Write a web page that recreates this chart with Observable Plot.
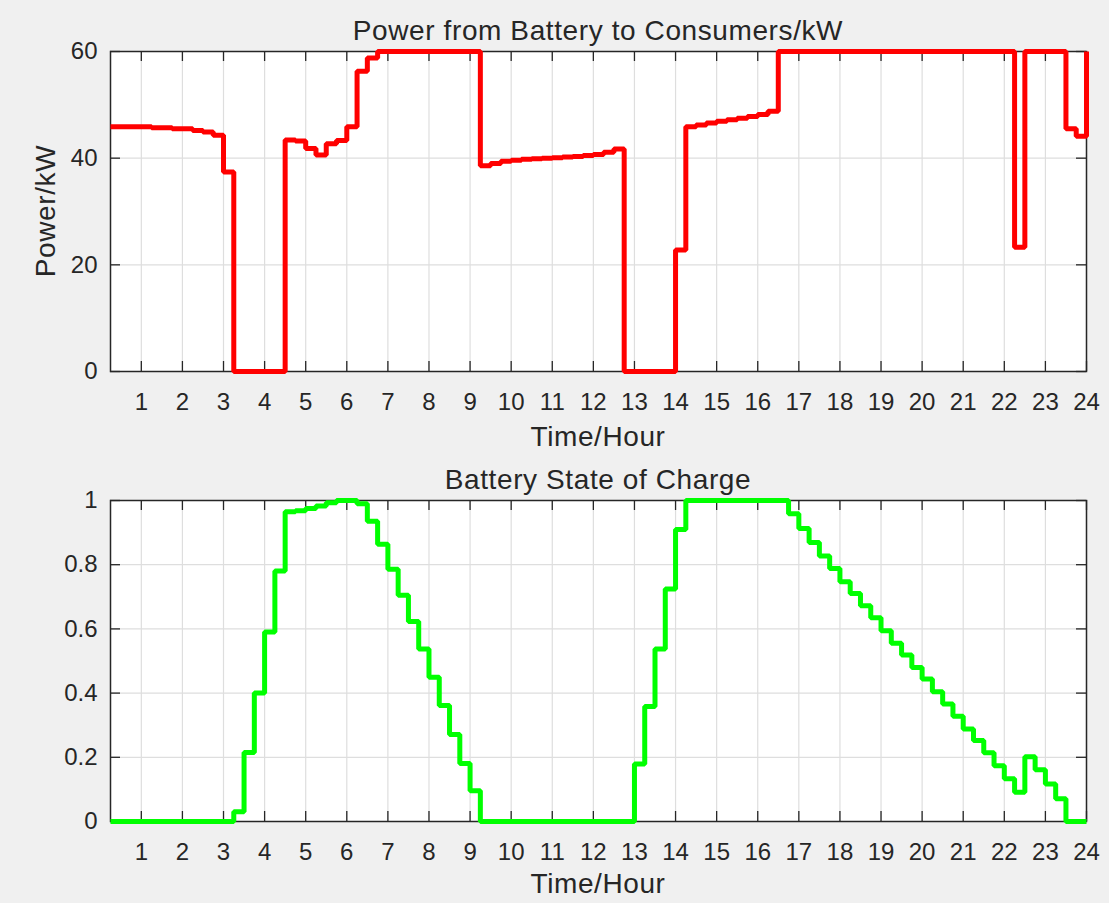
<!DOCTYPE html>
<html>
<head>
<meta charset="utf-8">
<script src="https://cdn.jsdelivr.net/npm/d3@7"></script>
<script src="https://cdn.jsdelivr.net/npm/@observablehq/plot@0.6"></script>
<style>
  html, body { margin: 0; padding: 0; background: #f0f0f0; }
  #fig { position: relative; width: 1109px; height: 903px; background: #f0f0f0; overflow: hidden;
         font-family: "Liberation Sans", Arial, Helvetica, sans-serif; color: #262626; }
  #fig svg { position: absolute; left: 0; }
  .lbl { position: absolute; transform: translate(-50%, -50%); white-space: nowrap; line-height: 1;
         font-size: 28px; letter-spacing: 0.6px; color: #262626; }
</style>
</head>
<body>
<div id="fig"></div>
<script>
// Sample times (hours), 15-minute steps
const hours = [0.25,0.5,0.75,1,1.25,1.5,1.75,2,2.25,2.5,2.75,3,3.25,3.5,3.75,4,4.25,4.5,4.75,5,5.25,5.5,5.75,6,
  6.25,6.5,6.75,7,7.25,7.5,7.75,8,8.25,8.5,8.75,9,9.25,9.5,9.75,10,10.25,10.5,10.75,11,11.25,11.5,11.75,12,
  12.25,12.5,12.75,13,13.25,13.5,13.75,14,14.25,14.5,14.75,15,15.25,15.5,15.75,16,16.25,16.5,16.75,17,17.25,17.5,
  17.75,18,18.25,18.5,18.75,19,19.25,19.5,19.75,20,20.25,20.5,20.75,21,21.25,21.5,21.75,22,22.25,22.5,22.75,23,
  23.25,23.5,23.75,24];

// Power from battery to consumers (kW)
const powerKW = [45.9,45.9,45.9,45.9,45.7,45.7,45.5,45.5,45.2,44.9,44.3,37.4,
  0,0,0,0,0,
  43.4,43.2,41.8,40.6,42.7,43.3,45.9,56.3,58.8,
  60,60,60,60,60,60,60,60,60,60,
  38.6,39.0,39.4,39.6,39.8,39.9,40.0,40.1,40.2,40.3,40.5,40.7,41.1,41.7,
  0,0,0,0,0,
  22.8,
  45.9,46.2,46.6,46.9,47.2,47.5,47.8,48.2,48.8,
  60,60,60,60,60,60,60,60,60,60,60,60,60,60,60,60,60,60,60,60,60,60,60,
  23.3,
  60,60,60,60,
  45.5,44.1,60];

// Battery state of charge (0..1)
const soc = [0,0,0,0,0,0,0,0,0,0,0,0,
  0.03,0.215,0.40,0.59,0.78,0.965,
  0.968,0.975,0.983,0.993,1.0,1.0,0.99,0.935,
  0.864,0.786,0.705,0.623,0.537,0.449,0.361,0.271,0.181,0.096,
  0,0,0,0,0,0,0,0,0,0,0,0,0,0,0,
  0.179,0.358,0.537,0.724,0.91,
  1,1,1,1,1,1,1,1,1,1,
  0.959,0.913,0.869,0.827,0.788,0.747,0.710,0.672,0.635,0.594,0.555,0.519,0.480,0.444,
  0.404,0.366,0.328,0.288,0.252,0.214,0.174,0.133,0.091,0.202,0.161,0.117,0.071,
  0,0,0];

const hourTicks = [1,2,3,4,5,6,7,8,9,10,11,12,13,14,15,16,17,18,19,20,21,22,23,24];
const powerTicks = [0,20,40,60];
const socTicks = [0,0.2,0.4,0.6,0.8,1];

const titles = ["Power from Battery to Consumers/kW", "Battery State of Charge"];
const xLabel = "Time/Hour";
const yLabelPower = "Power/kW";

const powerData = hours.map((h, i) => ({h, v: powerKW[i]}));
const socData = hours.map((h, i) => ({h, v: soc[i]}));

const axisColor = "#262626";
const gridColor = "#dedede";

function panel({data, yDomain, yTicks, color, frameH, top}) {
  const mt = 5, mb = 40;
  const p = Plot.plot({
    width: 1109,
    height: mt + frameH + mb,
    marginLeft: 110,
    marginRight: 23,
    marginTop: mt,
    marginBottom: mb,
    style: {background: "transparent", fontSize: "24px", fontFamily: "'Liberation Sans', Arial, sans-serif", color: axisColor, overflow: "visible"},
    x: {domain: [0.25, 24]},
    y: {domain: yDomain},
    marks: [
      Plot.frame({fill: "white", stroke: null}),
      Plot.gridX(hourTicks, {stroke: gridColor, strokeOpacity: 1, strokeWidth: 1.2}),
      Plot.gridY(yTicks, {stroke: gridColor, strokeOpacity: 1, strokeWidth: 1.2}),
      Plot.tickX(hourTicks, {x: d => d, insetTop: frameH - 10, stroke: axisColor, strokeWidth: 1.3}),
      Plot.tickX(hourTicks, {x: d => d, insetBottom: frameH - 10, stroke: axisColor, strokeWidth: 1.3}),
      Plot.tickY(yTicks, {y: d => d, insetRight: 976 - 10, stroke: axisColor, strokeWidth: 1.3}),
      Plot.tickY(yTicks, {y: d => d, insetLeft: 976 - 10, stroke: axisColor, strokeWidth: 1.3}),
      Plot.frame({stroke: axisColor, strokeWidth: 1.5}),
      Plot.axisX(hourTicks, {anchor: "bottom", tickSize: 0, tickPadding: 21, label: null, tickFormat: d => String(d)}),
      Plot.axisY(yTicks, {anchor: "left", tickSize: 0, tickPadding: 13, label: null, tickFormat: d => String(d)}),
      Plot.line(data, {x: "h", y: "v", curve: "step-after", stroke: color, strokeWidth: 5, strokeLinejoin: "miter", strokeLinecap: "butt"})
    ]
  });
  p.style.top = top + "px";
  return p;
}

const fig = document.getElementById("fig");
fig.appendChild(panel({data: powerData, yDomain: [0, 60], yTicks: powerTicks, color: "#ff0000", frameH: 320, top: 46}));
fig.appendChild(panel({data: socData, yDomain: [0, 1], yTicks: socTicks, color: "#00ff00", frameH: 321, top: 495}));

function addLabel(text, x, y, rotate) {
  const d = document.createElement("div");
  d.className = "lbl";
  d.textContent = text;
  d.style.left = x + "px";
  d.style.top = y + "px";
  if (rotate) d.style.transform = "translate(-50%, -50%) rotate(-90deg)";
  fig.appendChild(d);
}
addLabel(titles[0], 598, 31);
addLabel(xLabel, 598, 437);
addLabel(yLabelPower, 46, 211, true);
addLabel(titles[1], 598, 480);
addLabel(xLabel, 598, 884);
</script>
</body>
</html>
